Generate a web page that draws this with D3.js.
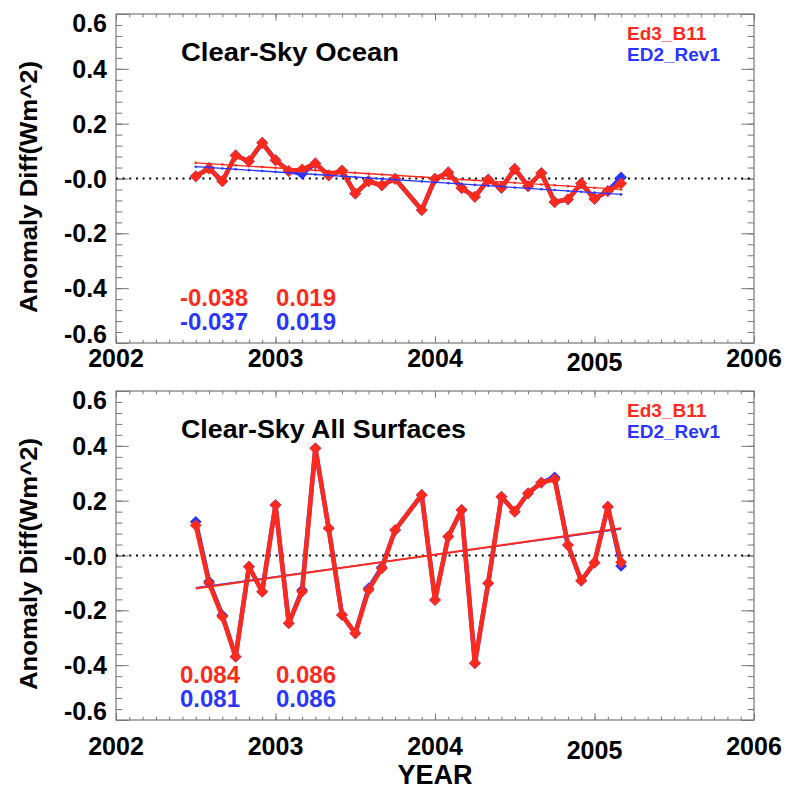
<!DOCTYPE html>
<html><head><meta charset="utf-8">
<script src="https://cdn.jsdelivr.net/npm/d3@7/dist/d3.min.js"></script>
<style>body{margin:0;background:#fff}svg{display:block}text{font-family:"Liberation Sans",Arial,Helvetica,sans-serif}</style>
</head><body><svg id="c" width="789" height="791"></svg>
<script>
// ---- data ----
const months = ["2002-07","2002-08","2002-09","2002-10","2002-11","2002-12",
  "2003-01","2003-02","2003-03","2003-04","2003-05","2003-06","2003-07","2003-08","2003-09","2003-10","2003-12",
  "2004-01","2004-02","2004-03","2004-04","2004-05","2004-06","2004-07","2004-08","2004-09","2004-10","2004-11","2004-12",
  "2005-01","2005-02","2005-03"];
const oceanEd3 = [0.008,0.036,-0.010,0.084,0.063,0.130,0.067,0.027,0.033,0.055,0.011,0.029,-0.055,-0.010,-0.025,-0.001,-0.115,
  -0.001,0.022,-0.035,-0.067,-0.004,-0.034,0.035,-0.028,0.020,-0.086,-0.076,-0.018,-0.074,-0.046,-0.018];
const oceanEd2 = [0.008,0.038,-0.010,0.084,0.063,0.130,0.067,0.027,0.017,0.055,0.011,0.029,-0.055,-0.010,-0.025,-0.001,-0.115,
  -0.001,0.022,-0.035,-0.067,-0.004,-0.034,0.035,-0.028,0.020,-0.086,-0.076,-0.018,-0.074,-0.046,0.004];
const allEd3 = [0.110,-0.101,-0.223,-0.369,-0.041,-0.132,0.184,-0.247,-0.132,0.391,0.099,-0.217,-0.284,-0.126,-0.047,0.093,0.221,
  -0.162,0.069,0.166,-0.393,-0.101,0.214,0.160,0.227,0.266,0.278,0.038,-0.092,-0.026,0.178,-0.025];
const allEd2 = [0.123,-0.095,-0.218,-0.369,-0.041,-0.132,0.184,-0.247,-0.126,0.391,0.099,-0.217,-0.284,-0.120,-0.043,0.093,0.221,
  -0.162,0.069,0.166,-0.393,-0.101,0.214,0.160,0.227,0.266,0.285,0.038,-0.092,-0.026,0.178,-0.038];
// trend endpoints (first month, last month)
const oceanTrendEd3 = [0.057,-0.040];
const oceanTrendEd2 = [0.043,-0.058];
const allTrendEd3 = [-0.120,0.099];
const allTrendEd2 = [-0.117,0.096];
const oceanStats = [["-0.038","0.019"],["-0.037","0.019"]];
const allStats = [["0.084","0.086"],["0.081","0.086"]];
const panelTitles = ["Clear-Sky Ocean","Clear-Sky All Surfaces"];
const seriesNames = ["Ed3_B11","ED2_Rev1"];
const yTickValues = [0.6,0.4,0.2,0,-0.2,-0.4,-0.6];
const yTickLabels = ["0.6","0.4","0.2","-0.0","-0.2","-0.4","-0.6"];
const xTickValues = [2002,2003,2004,2005,2006];
const xTickLabels = ["2002","2003","2004","2005","2006"];
const yAxisTitle = "Anomaly Diff(Wm^2)";
const xAxisTitle = "YEAR";

const RED = "#ff2a1c", BLUE = "#2a36ff";
const dec = m => { const [yy, mm] = m.split("-").map(Number); return yy + (mm - 1) / 12; };

const svg = d3.select("#c");
svg.append("rect").attr("width",789).attr("height",791).attr("fill","#fff");

const L = 116, R = 754;
const x = d3.scaleLinear().domain([2002,2006]).range([L,R]);
const minorX = d3.range(2002, 2006 + 1e-9, 1/12);
const minorY = d3.range(-0.6, 0.6 + 1e-9, 0.04).map(v => +v.toFixed(3));

function panel(top, bottom, title, red, blue, tRed, tBlue, stats, opt) {
  const y = d3.scaleLinear().domain([-0.6,0.6]).range([bottom, top]);
  const g = svg.append("g");
  const H = bottom - top, W = R - L;
  const xl = 0.02 * H, yl = 0.02 * W;
  const tickStyle = s => s.call(a => a.select(".domain").remove())
     .selectAll("line").attr("stroke","#777").attr("stroke-width",1);
  g.append("g").attr("transform",`translate(0,${bottom})`).call(d3.axisBottom(x).tickValues(minorX).tickSize(-xl/2).tickFormat("")).call(tickStyle);
  g.append("g").attr("transform",`translate(0,${bottom})`).call(d3.axisBottom(x).tickValues(xTickValues).tickSize(-xl).tickFormat("")).call(tickStyle);
  g.append("g").attr("transform",`translate(0,${top})`).call(d3.axisTop(x).tickValues(minorX).tickSize(-xl/2).tickFormat("")).call(tickStyle);
  g.append("g").attr("transform",`translate(0,${top})`).call(d3.axisTop(x).tickValues(xTickValues).tickSize(-xl).tickFormat("")).call(tickStyle);
  g.append("g").attr("transform",`translate(${L},0)`).call(d3.axisLeft(y).tickValues(minorY).tickSize(-yl/2).tickFormat("")).call(tickStyle);
  g.append("g").attr("transform",`translate(${L},0)`).call(d3.axisLeft(y).tickValues(yTickValues).tickSize(-yl).tickFormat("")).call(tickStyle);
  g.append("g").attr("transform",`translate(${R},0)`).call(d3.axisRight(y).tickValues(minorY).tickSize(-yl/2).tickFormat("")).call(tickStyle);
  g.append("g").attr("transform",`translate(${R},0)`).call(d3.axisRight(y).tickValues(yTickValues).tickSize(-yl).tickFormat("")).call(tickStyle);
  g.append("rect").attr("x",L).attr("y",top).attr("width",W).attr("height",H)
    .attr("fill","none").attr("stroke","#777").attr("stroke-width",1.2);
  yTickValues.forEach((v,i) => {
    let by = y(v) + 9;
    if (i === 0) by = top + 18;
    if (i === yTickValues.length - 1) by = bottom;
    g.append("text").attr("x",107).attr("y",by).attr("text-anchor","end")
      .attr("font-size",25).attr("font-weight","bold").attr("fill","#000").text(yTickLabels[i]);
  });
  xTickValues.forEach((v,i) => {
    g.append("text").attr("x",x(v)).attr("y",bottom + opt.xLabOff + (v === 2005 ? 4 : 0)).attr("text-anchor","middle")
      .attr("font-size",25).attr("font-weight","bold").attr("fill","#000").text(xTickLabels[i]);
  });
  const cy = (top + bottom) / 2 + 8.5;
  g.append("text").attr("transform",`translate(37,${cy}) rotate(-90)`).attr("text-anchor","middle")
    .attr("font-size",24).attr("font-weight","bold").attr("textLength",252).attr("lengthAdjust","spacingAndGlyphs")
    .text(yAxisTitle);
  g.append("line").attr("x1",L).attr("x2",R).attr("y1",y(0)).attr("y2",y(0))
    .attr("stroke","#000").attr("stroke-width",2).attr("stroke-dasharray","2,4.65");
  g.append("text").attr("x",181).attr("y",top + 47).attr("font-size",25).attr("font-weight","bold")
    .attr("textLength", title.length > 16 ? 285 : 218).attr("lengthAdjust","spacingAndGlyphs").text(title);
  g.append("text").attr("x",627).attr("y",top + 26).attr("font-size",19).attr("font-weight","bold").attr("fill",RED).text(seriesNames[0]);
  g.append("text").attr("x",627).attr("y",top + 47).attr("font-size",19).attr("font-weight","bold").attr("fill",BLUE).text(seriesNames[1]);

  const pts = arr => months.map((m,i) => [x(dec(m)), y(arr[i])]);
  const line = d3.line();
  const diamond = d3.symbol().type(d3.symbolDiamond2).size(88);
  function drawSeries(arr, color) {
    const p = pts(arr);
    g.append("path").attr("d", line(p)).attr("fill","none").attr("stroke",color)
      .attr("stroke-width",4.5).attr("stroke-linejoin","round");
    g.selectAll(null).data(p).enter().append("path").attr("d",diamond)
      .attr("transform",d => `translate(${d[0]},${d[1]})`).attr("fill",color);
  }
  drawSeries(blue, BLUE);
  drawSeries(red, RED);
  function drawTrend(t, color, w) {
    const x0 = dec(months[0]), x1 = dec(months[months.length-1]);
    const tr = d3.scaleLinear().domain([x0,x1]).range(t);
    g.append("path").attr("d", line([[x(x0),y(t[0])],[x(x1),y(t[1])]]))
      .attr("stroke",color).attr("stroke-width",w).attr("fill","none");
    if (opt.dots) g.selectAll(null).data(months).enter().append("circle")
      .attr("cx",m => x(dec(m))).attr("cy",m => y(tr(dec(m)))).attr("r",1.3).attr("fill",color);
  }
  drawTrend(tBlue, BLUE, 1.3);
  drawTrend(tRed, RED, opt.dots ? 1.3 : 2);
  const cols = [180, 276];
  [RED, BLUE].forEach((c, r) => {
    stats[r].forEach((s, k) => {
      g.append("text").attr("x",cols[k]).attr("y",bottom - 37 + r * 24).attr("font-size",24)
        .attr("font-weight","bold").attr("fill",c).text(s);
    });
  });
}

panel(14, 343, panelTitles[0], oceanEd3, oceanEd2, oceanTrendEd3, oceanTrendEd2, oceanStats, {xLabOff: 24, dots: true});
panel(391, 720, panelTitles[1], allEd3, allEd2, allTrendEd3, allTrendEd2, allStats, {xLabOff: 35, dots: false});

svg.append("text").attr("x",x(2004)).attr("y",784).attr("text-anchor","middle")
  .attr("font-size",27).attr("font-weight","bold").text(xAxisTitle);
</script></body></html>
